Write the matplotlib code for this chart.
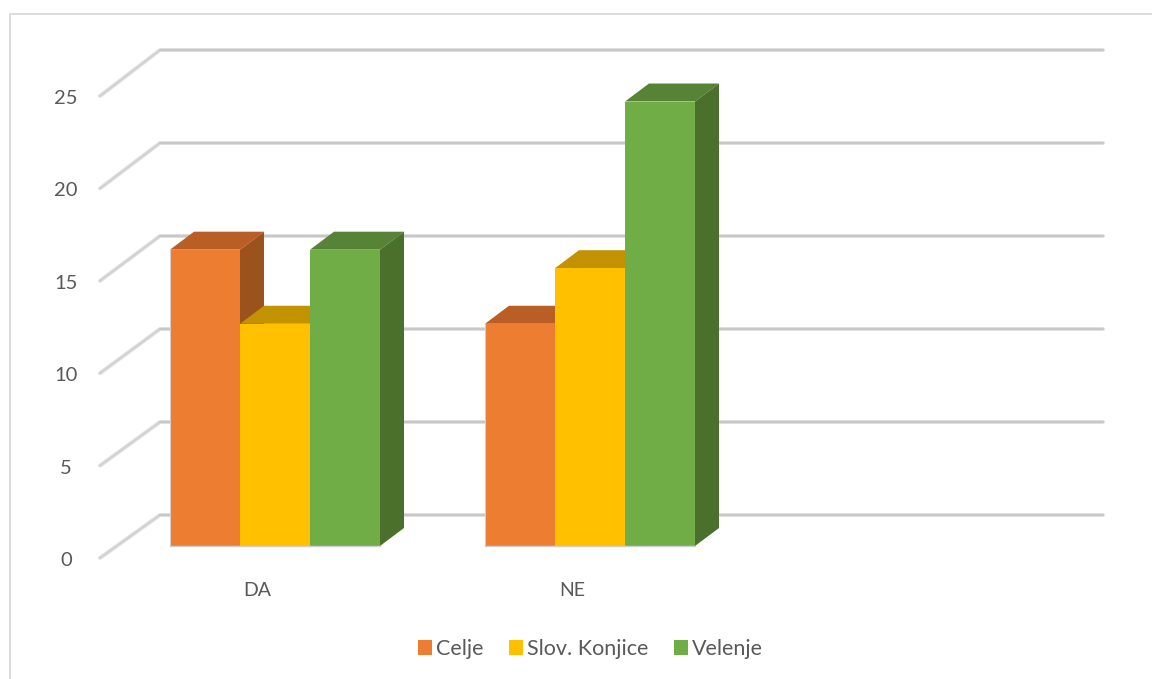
import matplotlib.pyplot as plt
from matplotlib.patches import Polygon, Patch

categories = ["DA", "NE"]
series_names = ["Celje", "Slov. Konjice", "Velenje"]
celje = [16, 12]
konjice = [12, 15]
velenje = [16, 24]
tick_values = [0, 5, 10, 15, 20, 25]

front_colors = ["#ED7D31", "#FFC000", "#70AD47"]
top_colors = ["#B95F25", "#C29200", "#578337"]
side_colors = ["#9C521D", "#9C521D", "#4A702B"]
text_color = "#595959"

plt.rcParams["font.family"] = ["Lato", "DejaVu Sans"]

W, H = 1152, 679
fig = plt.figure(figsize=(W / 100, H / 100), dpi=100)
ax = fig.add_axes([0, 0, 1, 1])

# x runs in pixels, y in chart values; the zero of the bars sits at pixel 546.
px_per_unit = 18.52
zero_px = 546
ax.set_xlim(0, W)
ax.set_ylim((zero_px - H) / px_per_unit, zero_px / px_per_unit)
ax.axis("off")


def px(n):
    # a pixel distance in y, as chart values
    return n / px_per_unit


# Chart frame, cut off by the image on the right and at the bottom.
ax.plot([10, 10, W], [(zero_px - H) / px_per_unit, px(zero_px - 14), px(zero_px - 14)],
        color="#D9D9D9", lw=1.3, clip_on=False)

# Gridlines: a slanted part on the side wall and a long part on the back wall.
for v in tick_values:
    front_y = v * 18.48 / px_per_unit - px(12)
    back_y = v * 18.6 / px_per_unit + px(31)
    ax.plot([100, 160, 1103], [front_y, back_y, back_y], color="#DEDEDE", lw=2.8,
            solid_capstyle="round", solid_joinstyle="round", zorder=1)
    ax.plot([100, 160], [front_y, back_y], color="#CFCFCF", lw=1.0, zorder=1)
    ax.plot([160, 1103], [back_y, back_y], color="#C4C4C4", lw=1.2, zorder=1)
    ax.text(66, front_y - px(2.5), str(v), ha="center", va="center", fontsize=14.5, color=text_color)

# Bars: for each one the top, the side and then the front.
bar_w = 70
depth_x, depth_y = 24, px(18)
group_start = [170, 485]
for s, values in enumerate([celje, konjice, velenje]):
    for g, v in enumerate(values):
        x0 = group_start[g] + s * bar_w
        x1 = x0 + bar_w
        ax.add_patch(Polygon([(x0, v), (x0 + depth_x, v + depth_y), (x1 + depth_x, v + depth_y), (x1, v)],
                             facecolor=top_colors[s], edgecolor="none", zorder=2 + s))
        ax.add_patch(Polygon([(x1, 0), (x1 + depth_x, depth_y), (x1 + depth_x, v + depth_y), (x1, v)],
                             facecolor=side_colors[s], edgecolor="none", zorder=2 + s))
        ax.bar(x0, v, width=bar_w, align="edge", color=front_colors[s], linewidth=0, zorder=2 + s)
        ax.plot([x0, x1], [0, 0], color="#CFCFCF", lw=1.0, zorder=6)
        if s == 0:
            ax.plot([x0, x0], [0, v], color="#CFCFCF", lw=0.8, zorder=6)

for g, name in enumerate(categories):
    ax.text(group_start[g] + 87, px(zero_px - 590), name, ha="center", va="center",
            fontsize=14, color=text_color)

handles = [Patch(facecolor=c, edgecolor="none") for c in front_colors]
fig.legend(handles, series_names, loc="center", bbox_to_anchor=(590.5 / W, 1 - 649 / H), ncol=3,
           frameon=False, fontsize=15.5, labelcolor=text_color, handlelength=0.65, handleheight=0.65,
           handletextpad=0.22, columnspacing=1.15)

fig.savefig("out.png", dpi=100)
